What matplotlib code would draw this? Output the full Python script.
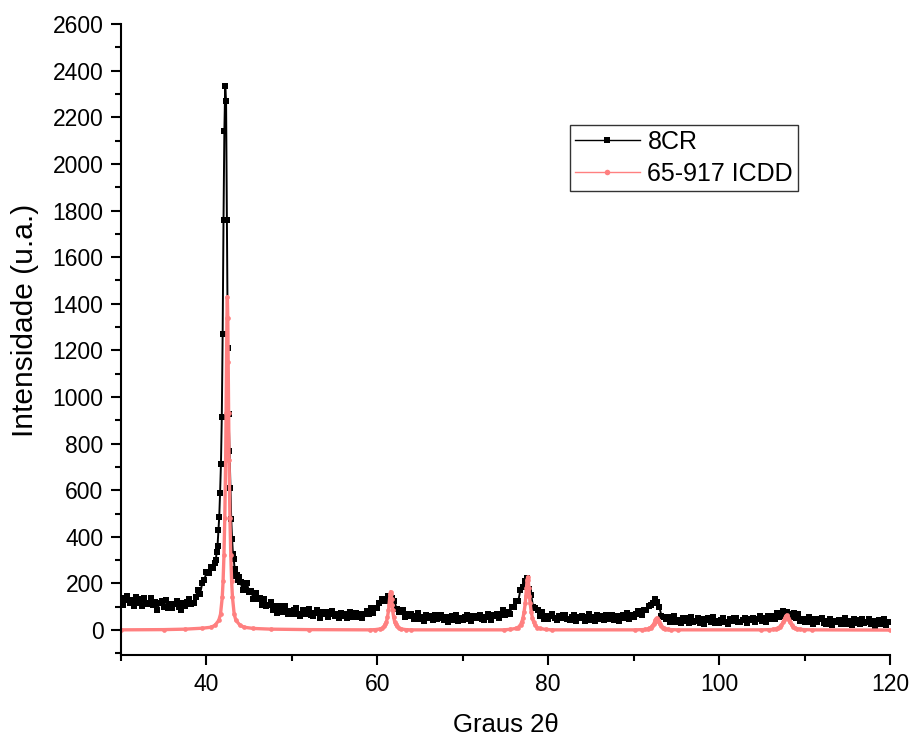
import numpy as np
import matplotlib
matplotlib.use('Agg')
import matplotlib.pyplot as plt
from matplotlib.ticker import MultipleLocator

# === Dados ===
# 8CR: varredura (passo 0.25, 0.1 perto do pico principal)
x_8cr = np.round(np.concatenate([
    np.arange(30, 40.8, 0.25),
    np.arange(41, 43.95, 0.1),
    np.arange(44, 120.1, 0.25),
]), 3)

y_8cr = [
    # 30 - 40.75
    139, 107, 131, 147, 115, 128, 104, 141,
    116, 132, 105, 139, 112, 118, 138, 107,
    119, 88, 115, 125, 101, 131, 94, 112,
    93, 113, 124, 99, 87, 116, 102, 120,
    133, 111, 115, 144, 172, 153, 200, 213,
    250, 243, 271, 268,
    # 41.0 - 43.9
    288, 301, 335, 362, 428, 486, 590, 712, 915, 1270,
    1760, 2140, 2335, 2270, 1760, 1210, 925, 770, 610, 478,
    392, 328, 305, 262, 258, 232, 238, 214, 226, 205,
    # 44 - 120
    205, 171, 190, 201, 162, 167, 135, 161,
    132, 139, 108, 135, 105, 107, 121, 87,
    105, 73, 95, 103, 79, 105, 68, 82,
    69, 86, 96, 71, 59, 85, 71, 88,
    90, 64, 59, 75, 85, 52, 76, 68,
    77, 55, 71, 81, 59, 67, 51, 75,
    61, 71, 53, 76, 57, 61, 75, 54,
    70, 51, 71, 81, 69, 94, 75, 94,
    93, 115, 132, 124, 124, 147, 136, 138,
    124, 92, 79, 83, 85, 57, 71, 62,
    70, 47, 62, 72, 49, 57, 41, 65,
    51, 61, 43, 65, 47, 51, 63, 42,
    57, 36, 53, 60, 44, 64, 39, 51,
    42, 55, 64, 47, 39, 59, 50, 62,
    65, 47, 45, 58, 67, 44, 63, 59,
    71, 52, 70, 84, 65, 78, 68, 101,
    97, 123, 125, 173, 183, 209, 224, 176,
    151, 97, 93, 86, 62, 77, 49, 59,
    49, 61, 69, 51, 43, 62, 52, 64,
    66, 48, 44, 56, 64, 40, 58, 51,
    61, 40, 56, 67, 45, 54, 38, 63,
    49, 60, 42, 65, 48, 52, 65, 45,
    60, 40, 58, 66, 51, 72, 49, 63,
    56, 71, 82, 68, 64, 87, 84, 104,
    108, 118, 133, 121, 100, 62, 58, 48,
    55, 33, 48, 59, 36, 45, 29, 53,
    39, 50, 32, 54, 36, 40, 53, 32,
    47, 26, 43, 50, 34, 54, 29, 41,
    32, 45, 53, 36, 28, 47, 39, 51,
    53, 35, 33, 45, 53, 30, 48, 43,
    53, 33, 49, 61, 40, 50, 35, 61,
    49, 62, 47, 73, 58, 65, 81, 62,
    78, 56, 71, 74, 53, 68, 38, 47,
    35, 47, 54, 36, 27, 46, 36, 48,
    50, 31, 28, 40, 48, 23, 41, 35,
    45, 24, 40, 51, 28, 37, 21, 46,
    32, 43, 25, 48, 30, 33, 46, 25,
    40, 19, 37, 44, 28, 48, 22, 34,
    36,
]

# ficha 65-917 ICDD
x_icdd = [
    30, 35, 37.5, 39.5, 40.5, 41.0, 41.45, 41.65, 41.85, 41.95, 42.05, 42.15,
    42.25, 42.3, 42.35, 42.4, 42.45, 42.5, 42.55, 42.6, 42.65, 42.75, 42.85,
    42.95, 43.05, 43.25, 43.45, 43.95, 44.45, 45.5, 47.5, 52,
    59.15, 59.75, 60.35, 60.59, 60.83, 60.95, 61.07, 61.19, 61.31, 61.37,
    61.43, 61.49, 61.55, 61.61, 61.67, 61.73, 61.79, 61.91, 62.03, 62.15,
    62.27, 62.51, 62.75, 63.35, 63.95,
    74.8, 75.5, 76.2, 76.48, 76.76, 76.9, 77.04, 77.18, 77.32, 77.39, 77.46,
    77.53, 77.6, 77.67, 77.74, 77.81, 77.88, 78.02, 78.16, 78.3, 78.44,
    78.72, 79.0, 79.7, 80.4,
    90.15, 91.0, 91.34, 91.68, 91.85, 92.02, 92.19, 92.36, 92.445, 92.53,
    92.615, 92.7, 92.785, 92.87, 92.955, 93.04, 93.21, 93.38, 93.55, 93.72,
    94.06, 94.4, 95.25,
    104.9, 105.9, 106.3, 106.7, 106.9, 107.1, 107.3, 107.5, 107.6, 107.7,
    107.8, 107.9, 108.0, 108.1, 108.2, 108.3, 108.5, 108.7, 108.9, 109.1,
    109.5, 109.9, 110.9, 120,
]
y_icdd = [
    1, 2, 4, 8, 12, 20, 42, 68, 140, 210, 320, 480,
    730, 930, 1150, 1340, 1430, 1340, 1150, 930, 730, 480, 320,
    210, 140, 68, 42, 20, 12, 7, 4, 2,
    1, 2, 5, 8, 17, 25, 36, 56, 84, 107,
    132, 155, 165, 155, 132, 107, 84, 56, 36, 25,
    17, 8, 5, 2, 1,
    1, 3, 7, 11, 23, 34, 50, 78, 116, 148, 182,
    214, 228, 214, 182, 148, 116, 78, 50, 34, 23,
    11, 7, 3, 1,
    1, 2, 3, 5, 8, 11, 18, 27, 34, 42,
    49, 52, 49, 42, 34, 27, 18, 11, 8, 5,
    3, 2, 1,
    1, 2, 3, 6, 10, 14, 22, 33, 42, 51,
    60, 64, 60, 51, 42, 33, 22, 14, 10, 6,
    3, 2, 1, 0,
]

labels = ['8CR', '65-917 ICDD']
x_ticks = [40, 60, 80, 100, 120]

# === Grafico ===
plt.rcParams['font.family'] = ['Liberation Sans', 'DejaVu Sans']

fig = plt.figure(figsize=(9.11, 7.37), dpi=100)
ax = fig.add_axes([0.1328, 0.1106, 0.8441, 0.8568])

ax.plot(x_8cr, y_8cr, color='black', lw=1.4, marker='s', ms=4.3,
        markeredgewidth=0, label=labels[0])
ax.plot(x_icdd, y_icdd, color='#ff8080', lw=2.4, marker='o', ms=3.4,
        markeredgewidth=0, label=labels[1])

ax.set_xlim(30, 120)
ax.set_ylim(-109, 2600)
ax.set_xticks(x_ticks)
ax.xaxis.set_minor_locator(MultipleLocator(10))
ax.yaxis.set_major_locator(MultipleLocator(200))
ax.yaxis.set_minor_locator(MultipleLocator(100))

for s in ['top', 'right']:
    ax.spines[s].set_visible(False)
for s in ['left', 'bottom']:
    ax.spines[s].set_linewidth(1.5)

ax.tick_params(which='major', direction='out', length=7.5, width=1.5,
               labelsize=16.5, pad=5)
ax.tick_params(which='minor', direction='out', length=4, width=1.5)

ax.set_xlabel('Graus 2\u03b8', fontsize=18.5, labelpad=12)
ax.set_ylabel('Intensidade (u.a.)', fontsize=21.5)
ax.yaxis.set_label_coords(-0.106, 0.53)

leg = ax.legend(loc='upper left', bbox_to_anchor=(0.5839, 0.840),
                fontsize=18, frameon=True, fancybox=False, borderaxespad=0,
                handlelength=2.6, handletextpad=0.3, labelspacing=0.3,
                borderpad=0.2)
leg.get_frame().set_edgecolor('black')
leg.get_frame().set_linewidth(1.0)
for line in leg.get_lines():
    line.set_linewidth(1.0)
    line.set_markersize(4.0)

plt.savefig('out.png', dpi=100)
